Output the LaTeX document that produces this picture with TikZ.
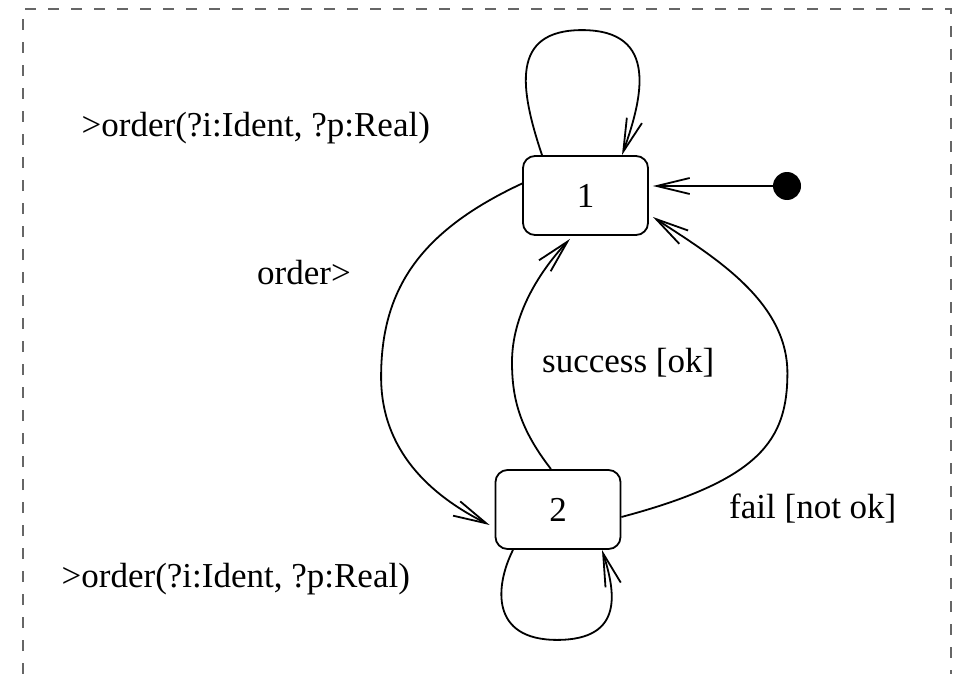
\documentclass[tikz,border=0pt]{standalone}
\usepackage{fontspec}
\setmainfont{Liberation Serif}
\usetikzlibrary{arrows.meta}
\begin{document}
\begin{tikzpicture}[x=1pt,y=-1pt,
  state/.style={draw, rounded corners=12pt, line width=1.8pt, minimum width=125pt, minimum height=79pt, inner sep=0pt, font=\fontsize{35}{40}\selectfont},
  lbl/.style={anchor=base west, inner sep=0pt, font=\fontsize{35}{40}\selectfont},
  trans/.style={line width=1.8pt, -{Straight Barb[length=33pt,width=16pt,line width=1.8pt]}},
  frame/.style={draw=black!60, line width=1.3pt, dash pattern=on 11pt off 12pt}
]
\useasboundingbox (0,0) rectangle (958,674);
\draw[frame] (23,674) -- (23,9) -- (951,9) -- (951,674);

\node[state] (n1) at (585.5,195.5) {1};
\node[state] (n2) at (558,509.5) {2};
\node[circle, fill=black, inner sep=0pt, minimum size=28pt] (init) at (787,186) {};

% initial
\draw[trans] (init) -- ([shift={(4,-9.5)}]n1.east);

% self loop on 1
\draw[trans] ([xshift=-43.5pt]n1.north)
  .. controls +(-22,-66) and +(-72,0) .. ([shift={(-3.5,-125)}]n1.north)
  .. controls +(78,0) and +(20,-56) .. ([xshift=36.5pt]n1.north);

% self loop on 2
\draw[trans] ([xshift=-45pt]n2.south)
  .. controls +(-18,36) and +(-67,0) .. ([shift={(-1,90)}]n2.south)
  .. controls +(68,0) and +(13,41) .. ([xshift=44pt]n2.south);

% order>
\draw[trans] ([yshift=12pt]n1.west)
  .. controls +(-103,48) and +(0,-87) .. ([shift={(-141,181.5)}]n1.west)
  .. controls +(0,73) and +(-60,-30) .. ([shift={(-5,15.5)}]n2.west);

% success
\draw[trans] ([xshift=-7pt]n2.north)
  .. controls +(-31,-40) and +(0,37) .. ([shift={(-46,-107)}]n2.north)
  .. controls +(0,-48) and +(-30,32) .. ([shift={(-15.5,3)}]n1.south);

% fail
\draw[trans] ([shift={(0,7.5)}]n2.east)
  .. controls +(139,-37) and +(0,67) .. ([shift={(166,-136.5)}]n2.east)
  .. controls +(0,-73) and +(58,38) .. ([shift={(4,21.5)}]n1.east);

\node[lbl] (l1) at (81.5,136) {>order(?i:Ident, ?p:Real)};
\node[lbl] (l2) at (257,284) {order>};
\node[lbl] (l3) at (542,372) {success [ok]};
\node[lbl] (l4) at (729,518) {fail [not ok]};
\node[lbl] (l5) at (61.5,587) {>order(?i:Ident, ?p:Real)};
\end{tikzpicture}
\end{document}
